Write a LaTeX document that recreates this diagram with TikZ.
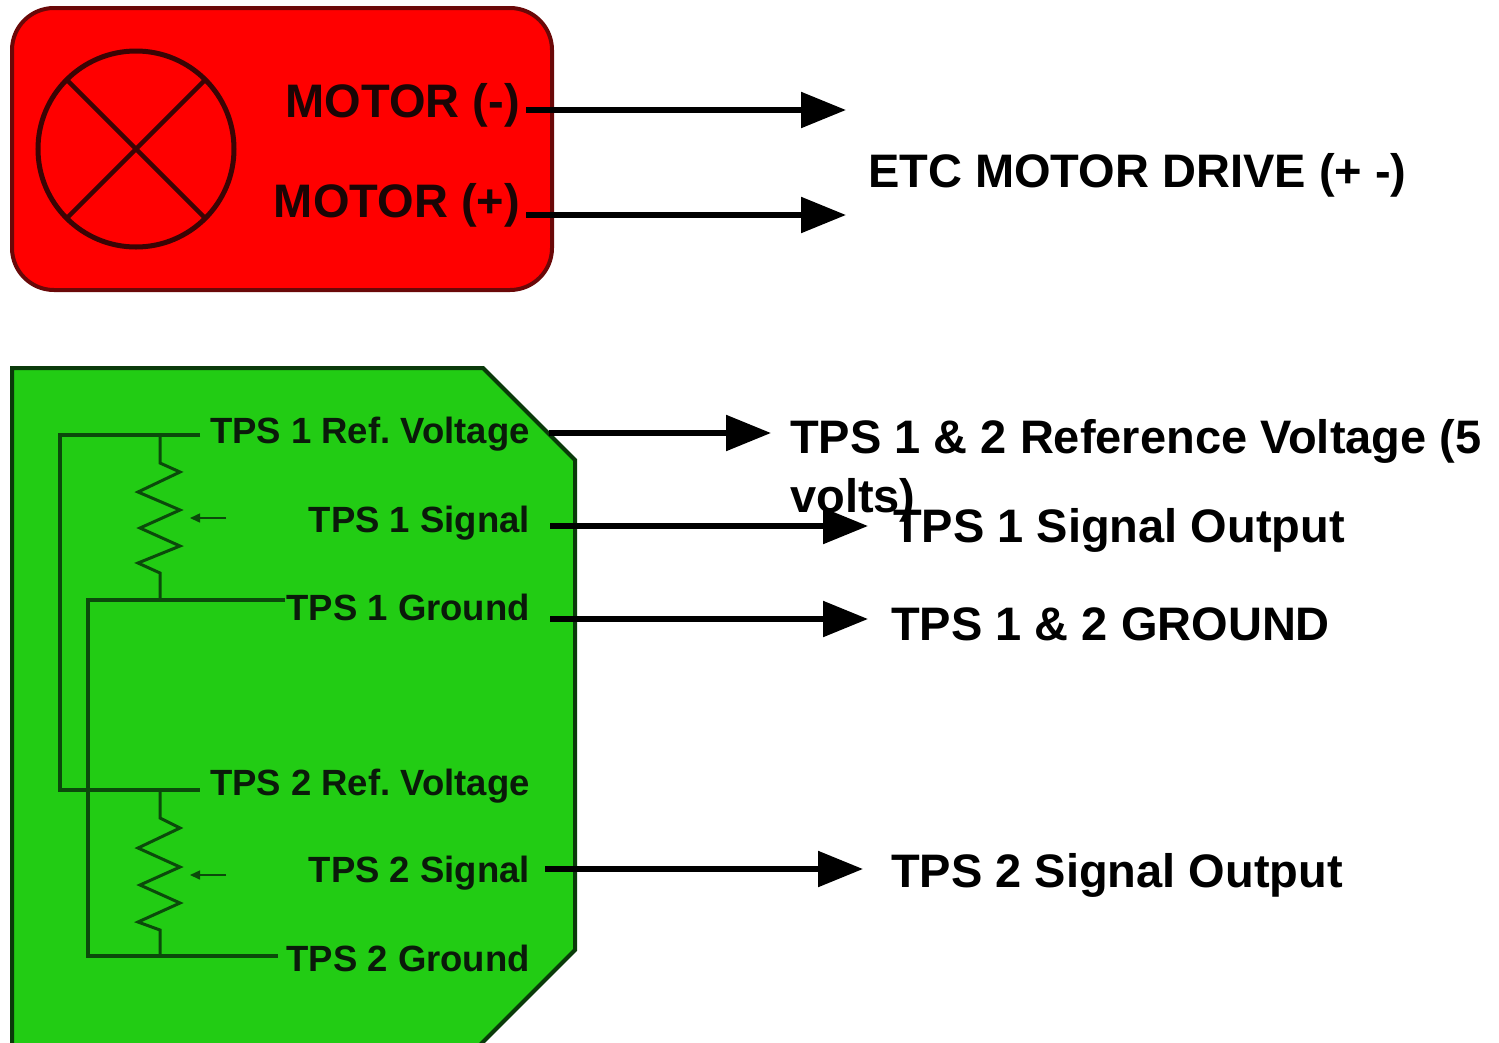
\documentclass[tikz,border=0pt]{standalone}
\usepackage{fontspec}
\setmainfont{Liberation Sans}
\usetikzlibrary{arrows.meta}
\definecolor{boxred}{HTML}{FF0000}
\definecolor{redline}{HTML}{6A0808}
\definecolor{boxgreen}{HTML}{22CC14}
\definecolor{greenline}{HTML}{0A3A0A}
\definecolor{wiregreen}{HTML}{0B4A0B}
\definecolor{labdark}{HTML}{0A1A0A}
\definecolor{reddark}{HTML}{1A0505}
\definecolor{circdark}{HTML}{3A0404}
\tikzset{
  biglabel/.style={inner sep=0pt, font=\bfseries\fontsize{47}{59}\selectfont, text=black},
  motorlabel/.style={inner sep=0pt, font=\bfseries\fontsize{47}{59}\selectfont, text=reddark, anchor=base east},
  tpslabel/.style={inner sep=0pt, font=\bfseries\fontsize{36.5}{44}\selectfont, text=labdark, anchor=base east},
  outarrow/.style={line width=5.5pt, draw=black, -{Triangle[length=45pt,width=35pt]}},
  circuit/.style={line width=4pt, draw=wiregreen},
  zig/.style={line width=3pt, draw=wiregreen, line join=miter},
  wiper/.style={line width=1.5pt, draw=wiregreen, -{Triangle[length=10pt,width=9pt]}}
}
\begin{document}
\frenchspacing
\begin{tikzpicture}[x=1pt,y=-1pt]
\useasboundingbox (0,0) rectangle (1499,1042);
\fill[white] (0,0) rectangle (1499,1042);

% red motor block
\draw[fill=boxred, draw=redline, line width=4pt, rounded corners=42pt] (12,8) rectangle (552,290);
\draw[draw=circdark, line width=5pt] (136,149) circle[radius=98];
\draw[draw=circdark, line width=4.5pt] (67,80) -- (205,218);
\draw[draw=circdark, line width=4.5pt] (205,80) -- (67,218);
\node[motorlabel] (mneg) at (520,117) {MOTOR (-)};
\node[motorlabel] (mpos) at (520,217) {MOTOR (+)};

% green TPS block
\draw[fill=boxgreen, draw=greenline, line width=4pt]
  (12,368) -- (483,368) -- (575,460) -- (575,950) -- (475,1050) -- (12,1050) -- cycle;

% circuit
\draw[circuit] (200,435) -- (60,435) -- (60,790) -- (200,790);
\draw[circuit] (285,600) -- (88,600) -- (88,956) -- (278,956);
\draw[zig] (160,435) -- (160,463) -- (180,472) -- (138,492) -- (180,510) -- (140,528) -- (180,546) -- (138,563) -- (160,573) -- (160,600);
\draw[zig] (160,790) -- (160,818) -- (180,828) -- (138,848) -- (180,867) -- (140,885) -- (180,903) -- (138,922) -- (160,930) -- (160,956);
\draw[wiper] (226,518) -- (190,518);
\draw[wiper] (226,875) -- (190,875);

\node[tpslabel] (t1r) at (530,443) {TPS 1 Ref. Voltage};
\node[tpslabel] (t1s) at (530,532) {TPS 1 Signal};
\node[tpslabel] (t1g) at (530,620) {TPS 1 Ground};
\node[tpslabel] (t2r) at (530,795) {TPS 2 Ref. Voltage};
\node[tpslabel] (t2s) at (530,882) {TPS 2 Signal};
\node[tpslabel] (t2g) at (530,971) {TPS 2 Ground};

% right side texts
\node[biglabel, anchor=base west] (etc) at (868,187) {ETC MOTOR DRIVE (+ -)};
\node[biglabel, anchor=base west] (refout) at (790,453) {TPS 1 \& 2 Reference Voltage (5};
\node[biglabel, anchor=base west] (refout2) at (790,512) {volts)};
\node[biglabel, anchor=base west] (sig1out) at (893,542) {TPS 1 Signal Output};
\node[biglabel, anchor=base west] (gndout) at (891,640) {TPS 1 \& 2 GROUND};
\node[biglabel, anchor=base west] (sig2out) at (891,887) {TPS 2 Signal Output};

% arrow endpoints
\coordinate (a1s) at (526,110); \coordinate (a1e) at (846,110);
\coordinate (a2s) at (526,215); \coordinate (a2e) at (846,215);
\coordinate (a3s) at (549,433); \coordinate (a3e) at (771,433);
\coordinate (a4s) at (550,526); \coordinate (a4e) at (868,526);
\coordinate (a5s) at (550,619); \coordinate (a5e) at (868,619);
\coordinate (a6s) at (545,869); \coordinate (a6e) at (863,869);
\draw[outarrow] (a1s) -- (a1e);
\draw[outarrow] (a2s) -- (a2e);
\draw[outarrow] (a3s) -- (a3e);
\draw[outarrow] (a4s) -- (a4e);
\draw[outarrow] (a5s) -- (a5e);
\draw[outarrow] (a6s) -- (a6e);
\end{tikzpicture}
\end{document}
